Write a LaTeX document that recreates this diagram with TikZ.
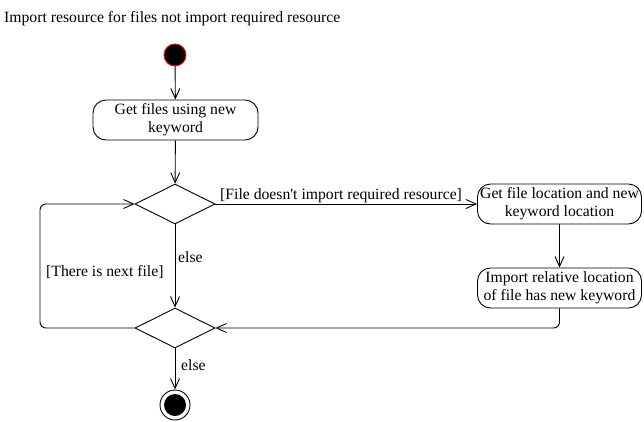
\documentclass[tikz,border=0pt]{standalone}
\usepackage{fontspec}
\setmainfont{Liberation Serif}[Ligatures=TeXOff]
\usetikzlibrary{arrows.meta,shapes.geometric}
\begin{document}
\begin{tikzpicture}[x=1pt,y=-1pt,
  every node/.style={font=\fontsize{15.7}{18}\selectfont},
  act/.style={draw, rounded corners=13pt, line width=0.9pt, minimum width=165pt, minimum height=40pt, align=center, inner sep=0pt},
  dec/.style={draw, diamond, aspect=2, minimum width=80pt, minimum height=40pt, inner sep=0pt, line width=0.9pt},
  flow/.style={draw, line width=0.9pt, -{Straight Barb[length=10pt,width=9pt,line width=0.9pt]}},
  lbl/.style={inner sep=0pt, anchor=base west}]
\useasboundingbox (0,0) rectangle (644,421);
\node[lbl] (title) at (4,22) {Import resource for files not import required resource};
\node[circle, fill=black, draw=red, line width=0.9pt, minimum size=22pt, inner sep=0pt] (start) at (175,55) {};
\node[act] (b1) at (175.5,120) {Get files using new\\keyword};
\node[dec] (d1) at (175,204) {};
\node[act, minimum width=164pt] (b2) at (559.5,204) {Get file location and new\\keyword location};
\node[act, minimum width=164pt] (b3) at (559.5,288) {Import relative location\\of file has new keyword};
\node[dec] (d2) at (175,328) {};
\node[circle, draw, line width=0.9pt, minimum size=30pt, inner sep=0pt] (end) at (175,405) {};
\node[circle, fill=black, minimum size=22pt, inner sep=0pt] (endin) at (175,405) {};
\coordinate (c1) at (559.5,328);
\coordinate (c2) at (40,328);
\coordinate (c3) at (40,204);

\draw[flow] (start) -- (b1);
\draw[flow] (b1) -- (d1);
\draw[flow] (d1.east) -- (b2.west);
\draw[flow] (b2) -- (b3);
\draw[flow, rounded corners=6pt] (b3.south) -- (c1) -- (d2.east);
\draw[flow] (d1.south) -- (d2.north);
\draw[flow, rounded corners=6pt] (d2.west) -- (c2) -- (c3) -- (d1.west);
\draw[flow] (d2.south) -- (end.north);

\node[lbl] (l1) at (220,199) {[File doesn't import required resource]};
\node[lbl] (l2) at (178,262) {else};
\node[lbl] (l3) at (46,276) {[There is next file]};
\node[lbl] (l4) at (181,370) {else};
\end{tikzpicture}
\end{document}
